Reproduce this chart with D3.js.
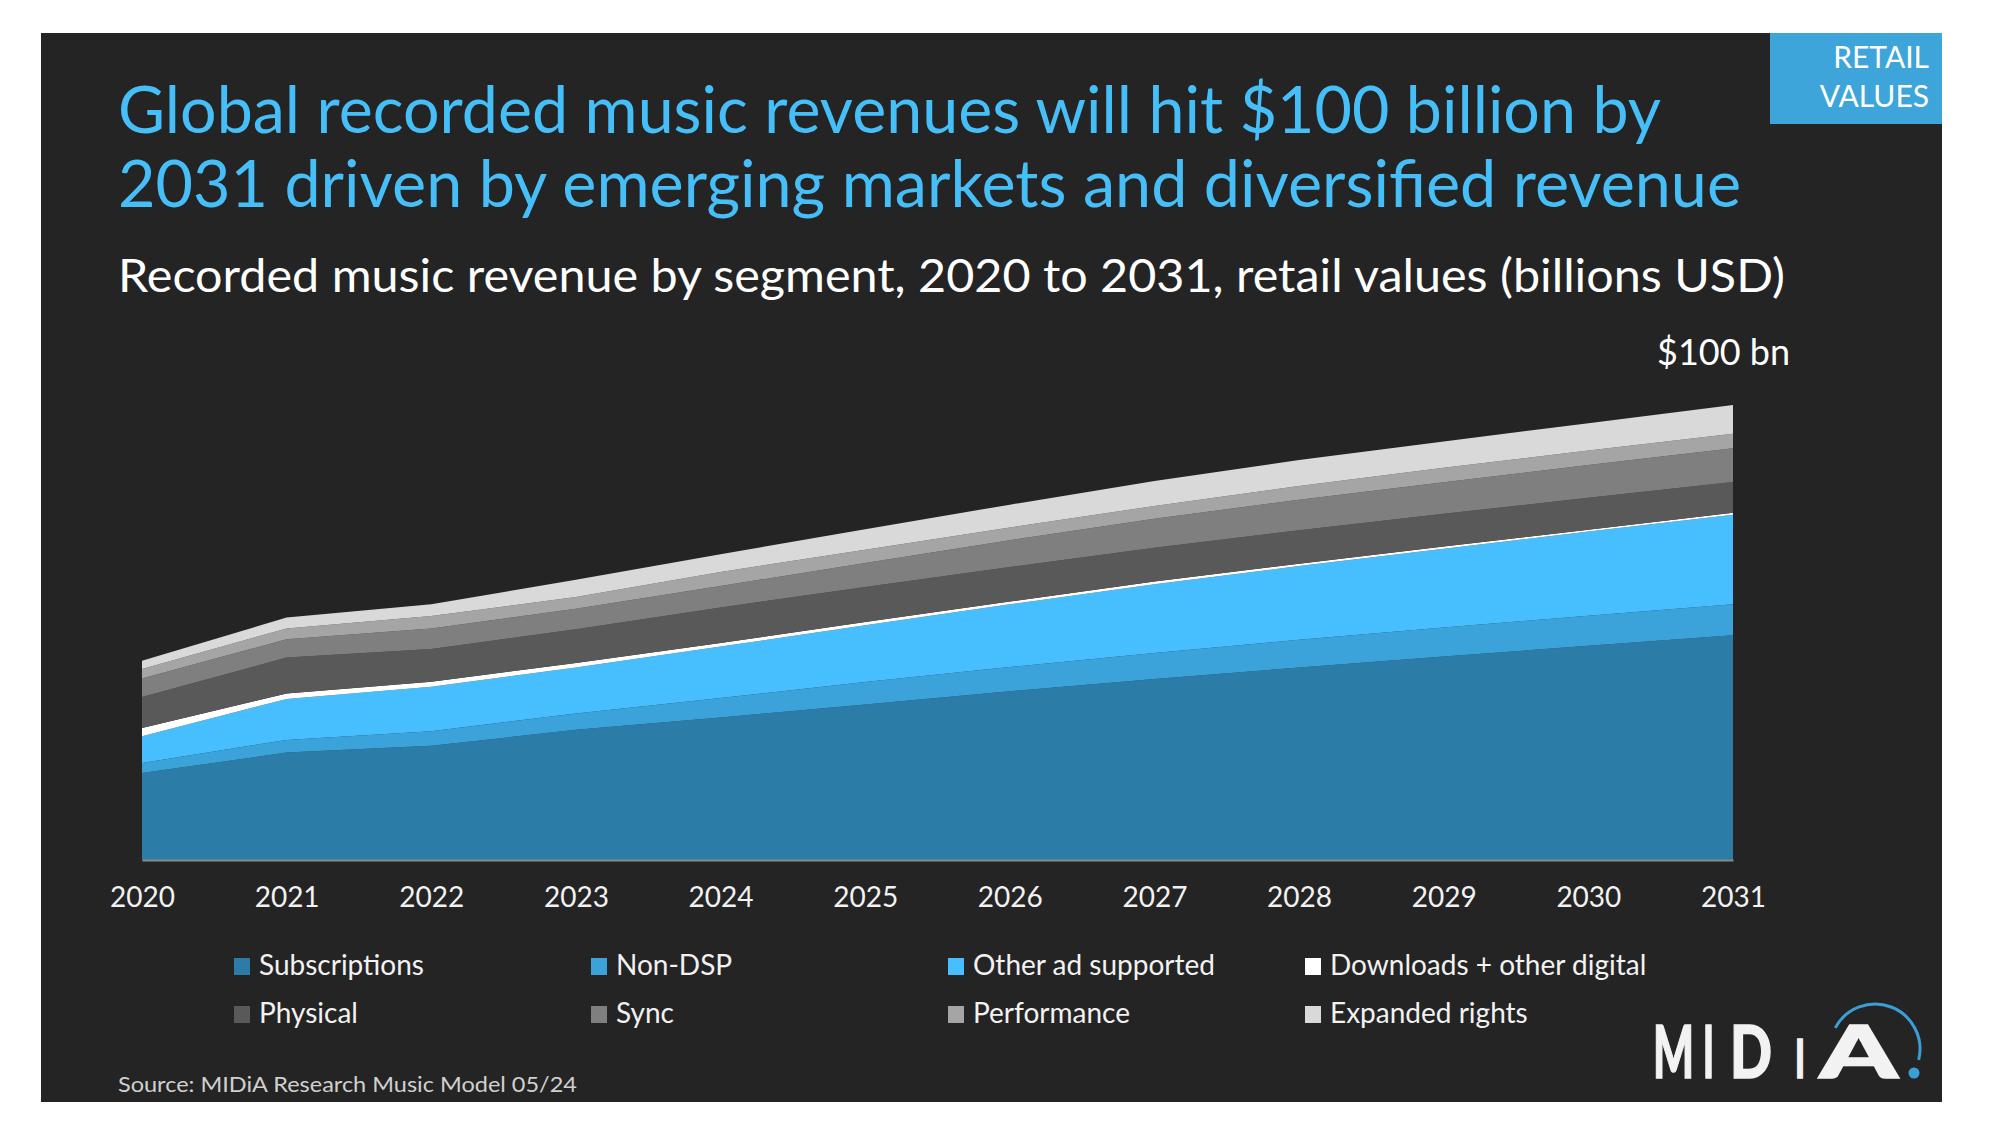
<!DOCTYPE html>
<html>
<head>
<meta charset="utf-8">
<title>Recorded music revenue by segment</title>
<script src="https://d3js.org/d3.v7.min.js"></script>
<style>
  body { margin: 0; background: #ffffff; }
  text { font-family: Lato, "Open Sans", "Noto Sans", sans-serif; }
</style>
</head>
<body>
<svg id="chart" width="1993" height="1121"></svg>
<script>
// ---- data (billions USD, retail values) ----
var years = [2020, 2021, 2022, 2023, 2024, 2025, 2026, 2027, 2028, 2029, 2030, 2031];

var subscriptions = [19.1, 23.6, 25.1, 28.6, 31.3, 34.2, 37.1, 39.8, 42.3, 44.7, 47.1, 49.4];
var nonDsp        = [2.2, 2.8, 3.2, 3.6, 4.3, 4.9, 5.3, 5.7, 6.1, 6.4, 6.6, 6.8];
var otherAd       = [5.9, 9.0, 9.8, 10.1, 11.3, 12.5, 13.8, 15.1, 16.2, 17.3, 18.5, 19.7];
var downloads     = [1.8, 1.2, 1.1, 1.0, 0.8, 0.7, 0.6, 0.6, 0.5, 0.5, 0.4, 0.4];
var physical      = [6.8, 7.9, 7.2, 7.4, 7.8, 7.7, 7.6, 7.4, 7.4, 7.2, 7.0, 6.8];
var sync          = [4.1, 4.0, 4.5, 4.5, 4.7, 5.3, 5.9, 6.4, 6.7, 6.9, 7.2, 7.4];
var performance   = [2.1, 2.4, 2.7, 2.6, 3.1, 2.9, 2.8, 2.8, 3.0, 3.2, 3.2, 3.2];
var expanded      = [1.8, 2.4, 2.6, 3.8, 3.9, 4.5, 5.0, 5.5, 5.7, 5.8, 6.0, 6.3];

var segments = ["Subscriptions", "Non-DSP", "Other ad supported", "Downloads + other digital",
                "Physical", "Sync", "Performance", "Expanded rights"];
var series = [subscriptions, nonDsp, otherAd, downloads, physical, sync, performance, expanded];
var colors = ["#2b7da7", "#3ba3d9", "#47bffe", "#ffffff", "#595959", "#7f7f7f", "#a5a5a5", "#d9d9d9"];

// table for d3.stack
var table = years.map(function(yr, i) {
  var row = { year: yr };
  segments.forEach(function(s, j) { row[s] = series[j][i]; });
  return row;
});

var svg = d3.select("#chart");

// dark slide panel
svg.append("rect")
  .attr("x", 41).attr("y", 33)
  .attr("width", 1901).attr("height", 1069)
  .attr("fill", "#242424");

// "retail values" badge
svg.append("rect")
  .attr("x", 1770).attr("y", 33)
  .attr("width", 172).attr("height", 91)
  .attr("fill", "#3ea5db");
svg.append("text").attr("x", 1929).attr("y", 68)
  .attr("text-anchor", "end").attr("fill", "#ffffff")
  .style("font-size", "30px").text("RETAIL");
svg.append("text").attr("x", 1929).attr("y", 107)
  .attr("text-anchor", "end").attr("fill", "#ffffff")
  .style("font-size", "30px").text("VALUES");

// titles
svg.append("text").attr("x", 118).attr("y", 133)
  .attr("fill", "#46bff9").style("font-size", "65px")
  .attr("textLength", 1543).attr("lengthAdjust", "spacingAndGlyphs")
  .text("Global recorded music revenues will hit $100 billion by");
svg.append("text").attr("x", 118).attr("y", 207)
  .attr("fill", "#46bff9").style("font-size", "65px")
  .attr("textLength", 1623).attr("lengthAdjust", "spacingAndGlyphs")
  .text("2031 driven by emerging markets and diversified revenue");
svg.append("text").attr("x", 118).attr("y", 292)
  .attr("fill", "#ffffff").style("font-size", "46px")
  .attr("textLength", 1667).attr("lengthAdjust", "spacingAndGlyphs")
  .text("Recorded music revenue by segment, 2020 to 2031, retail values (billions USD)");

// scales
var x = d3.scaleLinear().domain([2020, 2031]).range([142, 1733]);
var y = d3.scaleLinear().domain([0, 100]).range([860, 405]);

var stack = d3.stack().keys(segments);
var layers = stack(table);

var area = d3.area()
  .x(function(d) { return x(d.data.year); })
  .y0(function(d) { return y(d[0]); })
  .y1(function(d) { return y(d[1]); });

svg.append("g")
  .selectAll("path")
  .data(layers)
  .enter()
  .append("path")
    .attr("d", area)
    .attr("fill", function(d, i) { return colors[i]; });

// x axis
var xAxis = d3.axisBottom(x)
  .tickValues(years)
  .tickFormat(d3.format("d"))
  .tickSize(0)
  .tickSizeOuter(0)
  .tickPadding(27);

var gx = svg.append("g")
  .attr("transform", "translate(0," + y(0) + ")")
  .call(xAxis);
gx.select(".domain").attr("stroke", "#8a8a8a").attr("stroke-width", 2);
gx.selectAll("text")
  .attr("fill", "#f2f2f2")
  .style("font-size", "28px")
  .style("font-family", "Lato, sans-serif");

// total annotation
var last = layers[layers.length - 1];
var total2031 = last[last.length - 1][1];
svg.append("text")
  .attr("x", x(2031) + 57)
  .attr("y", y(total2031) - 40)
  .attr("text-anchor", "end")
  .attr("fill", "#ffffff")
  .style("font-size", "36px")
  .text("$" + Math.round(total2031) + " bn");

// legend
var legend = svg.append("g")
  .selectAll("g")
  .data(segments)
  .enter()
  .append("g")
    .attr("transform", function(d, i) {
      return "translate(" + (234 + (i % 4) * 357) + "," + (958 + Math.floor(i / 4) * 48) + ")";
    });
legend.append("rect")
  .attr("width", 16).attr("height", 17)
  .attr("fill", function(d, i) { return colors[i]; });
legend.append("text")
  .attr("x", 25).attr("y", 17)
  .attr("fill", "#f2f2f2")
  .style("font-size", "28px")
  .text(function(d) { return d; });

// source note
svg.append("text").attr("x", 118).attr("y", 1092)
  .attr("fill", "#d0d0d0").style("font-size", "21px")
  .attr("textLength", 459).attr("lengthAdjust", "spacingAndGlyphs")
  .text("Source: MIDiA Research Music Model 05/24");

// MIDiA logo: each letter squeezed to the width it has in the logo
var logo = svg.append("g");
var letters = [
  { ch: "M", x: 1653, w: 41, size: 72 },
  { ch: "I", x: 1703, w: 11, size: 72 },
  { ch: "D", x: 1730, w: 42, size: 72 },
  { ch: "I", x: 1795, w: 10, size: 53 },
  { ch: "A", x: 1818, w: 82, size: 72 }
];
letters.forEach(function(l) {
  var g = logo.append("g");
  var t = g.append("text")
    .attr("fill", "#f2f2f2")
    .attr("stroke", "#f2f2f2")
    .attr("stroke-width", 1.5)
    .style("font-size", l.size + "px")
    .style("font-weight", 900)
    .text(l.ch);
  var bb = t.node().getBBox();
  var sx = l.w / bb.width;
  t.attr("x", -bb.x);
  g.attr("transform", "translate(" + l.x + ",1078) scale(" + sx + ",1)");
});
var logoArc = d3.arc()
  .innerRadius(45).outerRadius(45)
  .startAngle(-62 * Math.PI / 180)
  .endAngle(104 * Math.PI / 180);
logo.append("path")
  .attr("transform", "translate(1875,1049)")
  .attr("d", logoArc())
  .attr("fill", "none")
  .attr("stroke", "#3a9fd6")
  .attr("stroke-width", 3);
logo.append("circle")
  .attr("cx", 1914).attr("cy", 1073).attr("r", 5.5)
  .attr("fill", "#3a9fd6");
</script>
</body>
</html>
